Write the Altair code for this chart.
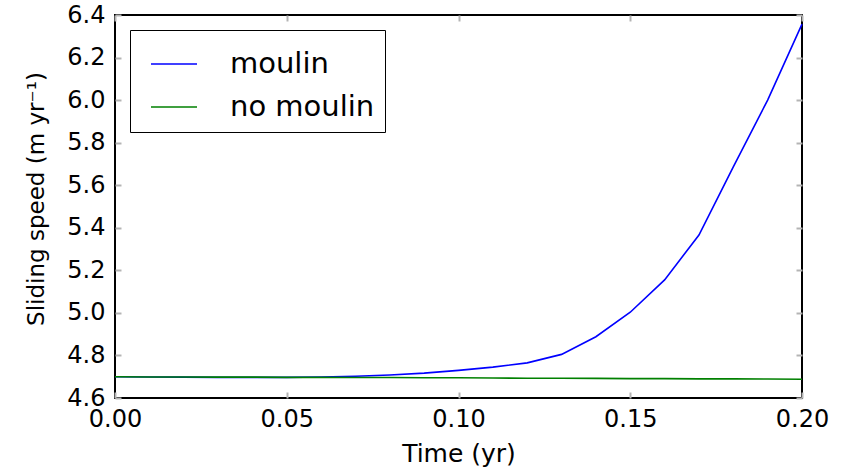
import altair as alt
import pandas as pd

# Data
time_yr = [0.00, 0.01, 0.02, 0.03, 0.04, 0.05, 0.06, 0.07, 0.08, 0.09, 0.10,
           0.11, 0.12, 0.13, 0.14, 0.15, 0.16, 0.17, 0.18, 0.19, 0.20]
moulin = [4.700, 4.699, 4.698, 4.697, 4.697, 4.697, 4.699, 4.702, 4.708, 4.717, 4.730,
          4.745, 4.765, 4.805, 4.888, 5.003, 5.155, 5.366, 5.686, 6.000, 6.357]
no_moulin = [4.700, 4.699, 4.699, 4.698, 4.698, 4.697, 4.697, 4.696, 4.696, 4.695, 4.695,
             4.694, 4.693, 4.693, 4.692, 4.691, 4.691, 4.690, 4.690, 4.689, 4.688]
series_names = ["moulin", "no moulin"]
series_colors = ["#0000ff", "#008000"]
x_ticks = [0.00, 0.05, 0.10, 0.15, 0.20]
y_ticks = [4.6, 4.8, 5.0, 5.2, 5.4, 5.6, 5.8, 6.0, 6.2, 6.4]

df_m = pd.DataFrame({"t": time_yr, "v": moulin, "s": series_names[0]})
df_n = pd.DataFrame({"t": time_yr, "v": no_moulin, "s": series_names[1]})

W, H = 687, 383
FONT = "DejaVu Sans"
TICK_COLOR = "#b4b4b4"

xscale = alt.Scale(domain=[0, 0.2], nice=False, zero=False)
yscale = alt.Scale(domain=[4.6, 6.4], nice=False, zero=False)
cscale = alt.Scale(domain=series_names, range=series_colors)
legend = alt.Legend(title=None, orient="none", legendX=15, legendY=15,
                    symbolType="stroke", symbolSize=2116, symbolStrokeWidth=1.6,
                    symbolOffset=10,
                    labelFont=FONT, labelFontSize=29, labelColor="black",
                    labelOffset=32, padding=10, rowPadding=4,
                    strokeColor="black", fillColor="white")

main_x = alt.Axis(values=x_ticks, format=".2f", ticks=False, domain=False, grid=False,
                  labelFlush=False,
                  labelFont=FONT, labelFontSize=24, labelColor="black", labelPadding=9,
                  title="Time (yr)", titleFont=FONT, titleFontSize=25,
                  titleFontWeight="normal", titleColor="black", titlePadding=10)
main_y = alt.Axis(values=y_ticks, format=".1f", ticks=False, domain=False, grid=False,
                  labelFlush=False,
                  labelFont=FONT, labelFontSize=24, labelColor="black", labelPadding=10,
                  title="Sliding speed (m yr\u207b\u00b9)", titleFont=FONT, titleFontSize=23,
                  titleFontWeight="normal", titleColor="black", titleX=-72,
                  titleY=H / 2 - 8, titleBaseline="alphabetic")


def tick_axis(orient, values, offset):
    return alt.Axis(orient=orient, values=values, offset=offset, labels=False,
                    domain=False, grid=False, title=None, ticks=True,
                    tickSize=6, tickWidth=2, tickColor=TICK_COLOR)


line_m = alt.Chart(df_m).mark_line(strokeWidth=1.6).encode(
    x=alt.X("t:Q", scale=xscale, axis=main_x),
    y=alt.Y("v:Q", scale=yscale, axis=main_y),
    color=alt.Color("s:N", scale=cscale, legend=legend),
)

line_n = alt.Chart(df_n).mark_line(strokeWidth=1.6).encode(
    x=alt.X("t:Q", scale=xscale, axis=tick_axis("top", x_ticks, -H)),
    y=alt.Y("v:Q", scale=yscale, axis=tick_axis("right", y_ticks, -W)),
    color=alt.Color("s:N", scale=cscale, legend=legend),
)

ticks_tr = alt.Chart(df_n).mark_line(strokeOpacity=0).encode(
    x=alt.X("t:Q", scale=xscale, axis=tick_axis("bottom", x_ticks, -H)),
    y=alt.Y("v:Q", scale=yscale, axis=tick_axis("left", y_ticks, -W)),
)

chart = alt.layer(line_m, line_n, ticks_tr).resolve_axis(
    x="independent", y="independent"
).properties(
    width=W, height=H,
    autosize=alt.AutoSizeParams(type="none"),
    padding={"left": 115, "top": 15, "right": 44, "bottom": 71},
    background="white",
).configure_view(stroke="black", strokeWidth=2)

chart.save("out.html", embed_options={"renderer": "svg", "actions": False})
